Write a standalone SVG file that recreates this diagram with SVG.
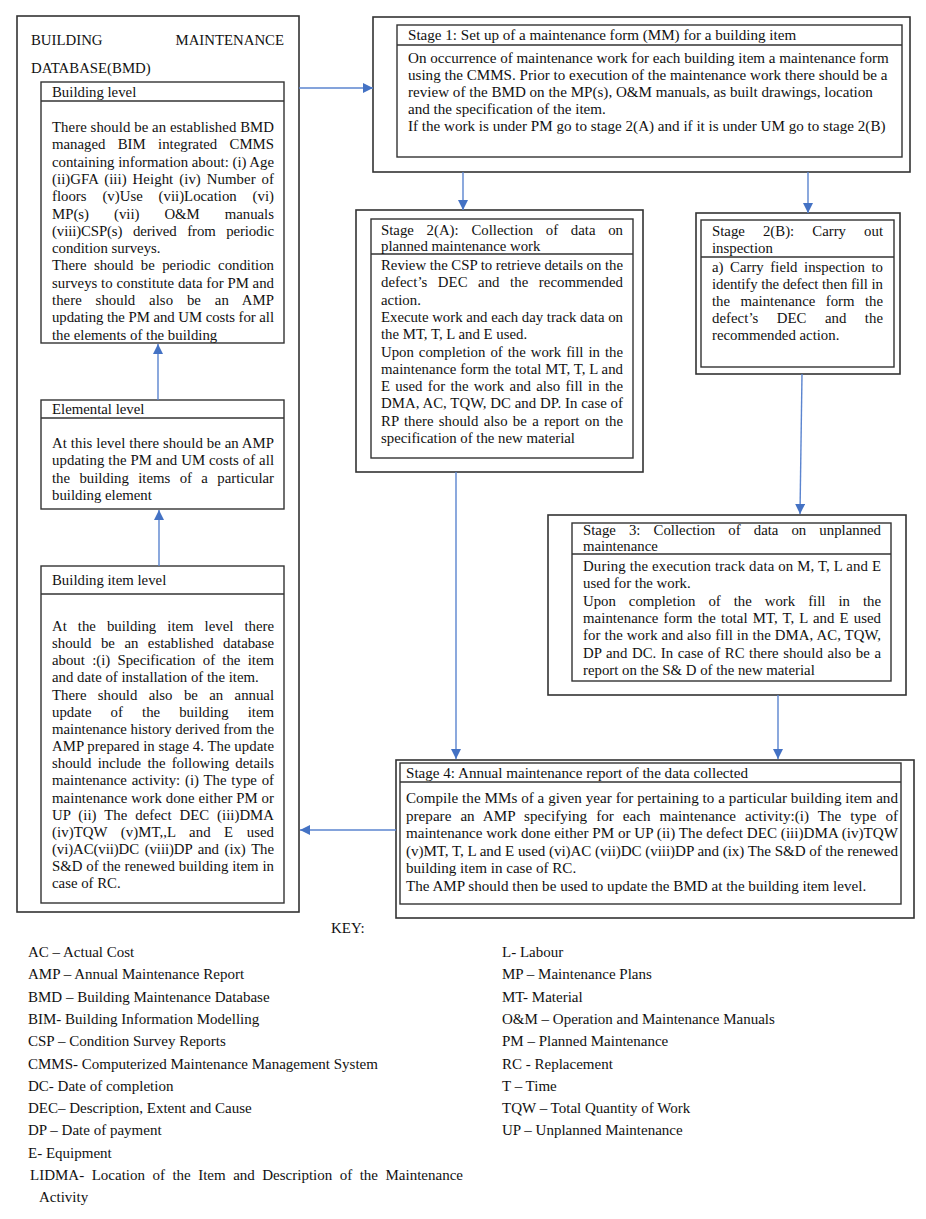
<svg xmlns="http://www.w3.org/2000/svg" width="926" height="1219" viewBox="0 0 926 1219">
<style>
text{font-family:"Liberation Serif","Times New Roman",serif;font-size:14.8px;fill:#111}
.w{font-size:15.1px}
.k{font-size:15px}
.box{fill:none;stroke:#333;stroke-width:1.6}
.in{fill:none;stroke:#333;stroke-width:1.4}
.div{stroke:#333;stroke-width:1.4}
.con{stroke:#5b84cf;stroke-width:1.4;fill:none}
</style>
<defs>
<marker id="ah" markerUnits="userSpaceOnUse" markerWidth="11" markerHeight="11" refX="10" refY="5" orient="auto"><path d="M0,0 L10,5 L0,10 z" fill="#4472c4"/></marker>
</defs>
<rect width="926" height="1219" fill="#fff"/>

<g id="bmd">
<rect class="box" x="17" y="16" width="282" height="896"/>
<text x="31" y="45">BUILDING</text>
<text x="284" y="45" text-anchor="end">MAINTENANCE</text>
<text x="31" y="73">DATABASE(BMD)</text>
</g>

<g id="building-level">
<rect class="in" x="41" y="82" width="243" height="261"/>
<line class="div" x1="41" y1="101" x2="284" y2="101"/>
<text x="52" y="97">Building level</text>
<text x="52" y="132" textLength="222" lengthAdjust="spacing">There should be an established BMD</text>
<text x="52" y="149.3" textLength="222" lengthAdjust="spacing" word-spacing="8.6">managed BIM integrated CMMS</text>
<text x="52" y="166.6" textLength="222" lengthAdjust="spacing">containing information about: (i) Age</text>
<text x="52" y="183.9" textLength="222" lengthAdjust="spacing" word-spacing="2.2">(ii)GFA (iii) Height (iv) Number of</text>
<text x="52" y="201.2" textLength="222" lengthAdjust="spacing" word-spacing="12.2">floors (v)Use (vii)Location (vi)</text>
<text x="52" y="218.5" textLength="222" lengthAdjust="spacing" word-spacing="21.3">MP(s) (vii) O&amp;M manuals</text>
<text x="52" y="235.8" textLength="222" lengthAdjust="spacing" word-spacing="7">(viii)CSP(s) derived from periodic</text>
<text x="52" y="253.1">condition surveys.</text>
<text x="52" y="270.4" textLength="222" lengthAdjust="spacing" word-spacing="3.7">There should be periodic condition</text>
<text x="52" y="287.7" textLength="222" lengthAdjust="spacing">surveys to constitute data for PM and</text>
<text x="52" y="305" textLength="222" lengthAdjust="spacing" word-spacing="10.1">there should also be an AMP</text>
<text x="52" y="322.3" textLength="222" lengthAdjust="spacing">updating the PM and UM costs for all</text>
<text x="52" y="339.6">the elements of the building</text>
</g>

<g id="elemental-level">
<rect class="in" x="41" y="400" width="243" height="109"/>
<line class="div" x1="41" y1="418" x2="284" y2="418"/>
<text x="52" y="414">Elemental level</text>
<text x="52" y="448" textLength="222" lengthAdjust="spacing">At this level there should be an AMP</text>
<text x="52" y="465.3" textLength="222" lengthAdjust="spacing">updating the PM and UM costs of all</text>
<text x="52" y="482.6" textLength="222" lengthAdjust="spacing" word-spacing="5.7">the building items of a particular</text>
<text x="52" y="499.9">building element</text>
</g>

<g id="building-item-level">
<rect class="in" x="41" y="566" width="243" height="337"/>
<line class="div" x1="41" y1="594" x2="284" y2="594"/>
<text x="52" y="585">Building item level</text>
<text x="52" y="631" textLength="222" lengthAdjust="spacing" word-spacing="7.3">At the building item level there</text>
<text x="52" y="648.15" textLength="222" lengthAdjust="spacing" word-spacing="5.8">should be an established database</text>
<text x="52" y="665.3" textLength="222" lengthAdjust="spacing" word-spacing="3.6">about :(i) Specification of the item</text>
<text x="52" y="682.45">and date of installation of the item.</text>
<text x="52" y="699.6" textLength="222" lengthAdjust="spacing" word-spacing="7.7">There should also be an annual</text>
<text x="52" y="716.75" textLength="222" lengthAdjust="spacing" word-spacing="15.4">update of the building item</text>
<text x="52" y="733.9" textLength="222" lengthAdjust="spacing">maintenance history derived from the</text>
<text x="52" y="751.05" textLength="222" lengthAdjust="spacing">AMP prepared in stage 4. The update</text>
<text x="52" y="768.2" textLength="222" lengthAdjust="spacing" word-spacing="2.5">should include the following details</text>
<text x="52" y="785.35" textLength="222" lengthAdjust="spacing" word-spacing="1.1">maintenance activity: (i) The type of</text>
<text x="52" y="802.5" textLength="222" lengthAdjust="spacing">maintenance work done either PM or</text>
<text x="52" y="819.65" textLength="222" lengthAdjust="spacing" word-spacing="4.2">UP (ii) The defect DEC (iii)DMA</text>
<text x="52" y="836.8" textLength="222" lengthAdjust="spacing" word-spacing="9.7">(iv)TQW (v)MT,,L and E used</text>
<text x="52" y="853.95" textLength="222" lengthAdjust="spacing" word-spacing="2.1">(vi)AC(vii)DC (viii)DP and (ix) The</text>
<text x="52" y="871.1" textLength="222" lengthAdjust="spacing">S&amp;D of the renewed building item in</text>
<text x="52" y="888.25">case of RC.</text>
</g>

<g id="stage1">
<rect class="box" x="373" y="17" width="537" height="155"/>
<rect class="in" x="397" y="25" width="505" height="132"/>
<line class="div" x1="397" y1="45" x2="902" y2="45"/>
<text class="w" x="408" y="40">Stage 1: Set up of a maintenance form (MM) for a building item</text>
<text class="w" x="408" y="63">On occurrence of maintenance work for each building item a maintenance form</text>
<text class="w" x="408" y="80">using the CMMS. Prior to execution of the maintenance work there should be a</text>
<text class="w" x="408" y="97">review of the BMD on the MP(s), O&amp;M manuals, as built drawings, location</text>
<text class="w" x="408" y="114">and the specification of the item.</text>
<text class="w" x="408" y="131">If the work is under PM go to stage 2(A) and if it is under UM go to stage 2(B)</text>
</g>

<g id="stage2a">
<rect class="box" x="356" y="210" width="287" height="262"/>
<rect class="in" x="371" y="219" width="262" height="239"/>
<line class="div" x1="371" y1="254" x2="633" y2="254"/>
<text x="381" y="235" textLength="242" lengthAdjust="spacing" word-spacing="9">Stage 2(A): Collection of data on</text>
<text x="381" y="251">planned maintenance work</text>
<text x="381" y="270" textLength="242" lengthAdjust="spacing">Review the CSP to retrieve details on the</text>
<text x="381" y="287.3" textLength="242" lengthAdjust="spacing" word-spacing="6.8">defect’s DEC and the recommended</text>
<text x="381" y="304.6">action.</text>
<text x="381" y="321.9" textLength="242" lengthAdjust="spacing">Execute work and each day track data on</text>
<text x="381" y="339.2">the MT, T, L and E used.</text>
<text x="381" y="356.5" textLength="242" lengthAdjust="spacing" word-spacing="1.3">Upon completion of the work fill in the</text>
<text x="381" y="373.8" textLength="242" lengthAdjust="spacing">maintenance form the total MT, T, L and</text>
<text x="381" y="391.1" textLength="242" lengthAdjust="spacing" word-spacing="1.6">E used for the work and also fill in the</text>
<text x="381" y="408.4" textLength="242" lengthAdjust="spacing">DMA, AC, TQW, DC and DP. In case of</text>
<text x="381" y="425.7" textLength="242" lengthAdjust="spacing" word-spacing="1.6">RP there should also be a report on the</text>
<text x="381" y="443">specification of the new material</text>
</g>

<g id="stage2b">
<rect class="box" x="696" y="213" width="204" height="161"/>
<rect class="in" x="701" y="220" width="193" height="147"/>
<line class="div" x1="701" y1="257" x2="894" y2="257"/>
<text x="712" y="236" textLength="171" lengthAdjust="spacing" word-spacing="14.4">Stage 2(B): Carry out</text>
<text x="712" y="253">inspection</text>
<text x="712" y="272" textLength="171" lengthAdjust="spacing" word-spacing="2.9">a) Carry field inspection to</text>
<text x="712" y="289" textLength="171" lengthAdjust="spacing">identify the defect then fill in</text>
<text x="712" y="306" textLength="171" lengthAdjust="spacing" word-spacing="6.7">the maintenance form the</text>
<text x="712" y="323" textLength="171" lengthAdjust="spacing" word-spacing="14.7">defect’s DEC and the</text>
<text x="712" y="340">recommended action.</text>
</g>

<g id="stage3">
<rect class="box" x="548" y="515" width="358" height="180"/>
<rect class="in" x="572" y="523" width="319" height="158"/>
<line class="div" x1="572" y1="554" x2="891" y2="554"/>
<text x="583" y="535" textLength="298" lengthAdjust="spacing" word-spacing="9.4">Stage 3: Collection of data on unplanned</text>
<text x="583" y="551">maintenance</text>
<text x="583" y="571" textLength="298" lengthAdjust="spacing">During the execution track data on M, T, L and E</text>
<text x="583" y="588.3">used for the work.</text>
<text x="583" y="605.6" textLength="298" lengthAdjust="spacing" word-spacing="9.3">Upon completion of the work fill in the</text>
<text x="583" y="622.9" textLength="298" lengthAdjust="spacing" word-spacing="1.3">maintenance form the total MT, T, L and E used</text>
<text x="583" y="640.2" textLength="298" lengthAdjust="spacing">for the work and also fill in the DMA, AC, TQW,</text>
<text x="583" y="657.5" textLength="298" lengthAdjust="spacing" word-spacing="0.9">DP and DC. In case of RC there should also be a</text>
<text x="583" y="674.8">report on the S&amp; D of the new material</text>
</g>

<g id="stage4">
<rect class="box" x="396" y="760" width="518" height="158"/>
<rect class="in" x="400" y="763" width="501" height="141"/>
<line class="div" x1="400" y1="782" x2="901" y2="782"/>
<text class="w" x="406" y="778">Stage 4: Annual maintenance report of the data collected</text>
<text class="w" x="406" y="803" textLength="492" lengthAdjust="spacing">Compile the MMs of a given year for pertaining to a particular building item and</text>
<text class="w" x="406" y="820.6" textLength="492" lengthAdjust="spacing" word-spacing="5.2">prepare an AMP specifying for each maintenance activity:(i) The type of</text>
<text class="w" x="406" y="838.2" textLength="492" lengthAdjust="spacing">maintenance work done either PM or UP (ii) The defect DEC (iii)DMA (iv)TQW</text>
<text class="w" x="406" y="855.8" textLength="492" lengthAdjust="spacing">(v)MT, T, L and E used (vi)AC (vii)DC (viii)DP and (ix) The S&amp;D of the renewed</text>
<text class="w" x="406" y="873.4">building item in case of RC.</text>
<text class="w" x="406" y="891">The AMP should then be used to update the BMD at the building item level.</text>
</g>

<g id="connectors">
<line class="con" x1="299" y1="88" x2="373" y2="88" marker-end="url(#ah)"/>
<line class="con" x1="463" y1="172" x2="463" y2="210" marker-end="url(#ah)"/>
<line class="con" x1="808" y1="172" x2="808" y2="213" marker-end="url(#ah)"/>
<line class="con" x1="802" y1="374" x2="800" y2="514" marker-end="url(#ah)"/>
<line class="con" x1="456" y1="472" x2="456" y2="759" marker-end="url(#ah)"/>
<line class="con" x1="778" y1="695" x2="778" y2="759" marker-end="url(#ah)"/>
<line class="con" x1="396" y1="830" x2="300" y2="830" marker-end="url(#ah)"/>
<line class="con" x1="159" y1="566" x2="159" y2="510" marker-end="url(#ah)"/>
<line class="con" x1="158" y1="400" x2="158" y2="344" marker-end="url(#ah)"/>
</g>

<g id="key">
<text class="k" x="331" y="933">KEY:</text>
<text class="k" x="28" y="957">AC – Actual Cost</text>
<text class="k" x="28" y="979.3">AMP – Annual Maintenance Report</text>
<text class="k" x="28" y="1001.6">BMD – Building Maintenance Database</text>
<text class="k" x="28" y="1023.9">BIM- Building Information Modelling</text>
<text class="k" x="28" y="1046.2">CSP – Condition Survey Reports</text>
<text class="k" x="28" y="1068.5">CMMS- Computerized Maintenance Management System</text>
<text class="k" x="28" y="1090.8">DC- Date of completion</text>
<text class="k" x="28" y="1113.1">DEC– Description, Extent and Cause</text>
<text class="k" x="28" y="1135.4">DP – Date of payment</text>
<text class="k" x="28" y="1157.7">E- Equipment</text>
<text class="k" x="30" y="1180" textLength="433" lengthAdjust="spacing" word-spacing="3.7">LIDMA- Location of the Item and Description of the Maintenance</text>
<text class="k" x="39" y="1202.3">Activity</text>
<text class="k" x="502" y="957">L- Labour</text>
<text class="k" x="502" y="979.3">MP – Maintenance Plans</text>
<text class="k" x="502" y="1001.6">MT- Material</text>
<text class="k" x="502" y="1023.9">O&amp;M – Operation and Maintenance Manuals</text>
<text class="k" x="502" y="1046.2">PM – Planned Maintenance</text>
<text class="k" x="502" y="1068.5">RC - Replacement</text>
<text class="k" x="502" y="1090.8">T – Time</text>
<text class="k" x="502" y="1113.1">TQW – Total Quantity of Work</text>
<text class="k" x="502" y="1135.4">UP – Unplanned Maintenance</text>
</g>
</svg>
